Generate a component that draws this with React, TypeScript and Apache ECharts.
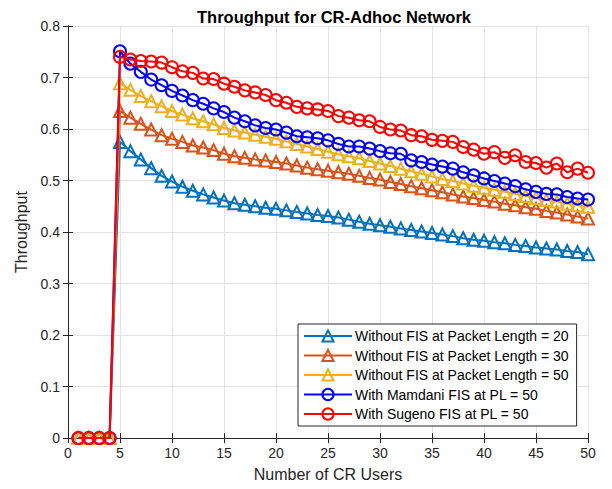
import React, { useEffect, useRef } from "react";
import * as echarts from "echarts";

// Number of CR users on the x axis
const users = [
  1, 2, 3, 4, 5, 6, 7, 8, 9, 10, 11, 12, 13, 14, 15, 16, 17, 18, 19, 20, 21, 22, 23, 24, 25,
  26, 27, 28, 29, 30, 31, 32, 33, 34, 35, 36, 37, 38, 39, 40, 41, 42, 43, 44, 45, 46, 47, 48,
  49, 50,
];

const noFisPL20 = [
  0, 0, 0, 0, 0.575, 0.557, 0.541, 0.524, 0.509, 0.498, 0.488, 0.48, 0.473, 0.467, 0.461,
  0.456, 0.453, 0.45, 0.447, 0.445, 0.442, 0.439, 0.436, 0.433, 0.431, 0.428, 0.424, 0.42,
  0.416, 0.413, 0.41, 0.407, 0.404, 0.401, 0.398, 0.395, 0.392, 0.388, 0.385, 0.383, 0.38,
  0.378, 0.375, 0.373, 0.37, 0.368, 0.366, 0.363, 0.361, 0.357,
];

const noFisPL30 = [
  0, 0, 0, 0, 0.635, 0.622, 0.61, 0.599, 0.588, 0.581, 0.575, 0.568, 0.564, 0.559, 0.552,
  0.547, 0.544, 0.541, 0.539, 0.536, 0.533, 0.529, 0.525, 0.522, 0.519, 0.516, 0.513, 0.509,
  0.505, 0.502, 0.497, 0.493, 0.489, 0.485, 0.481, 0.477, 0.473, 0.469, 0.466, 0.462, 0.459,
  0.455, 0.452, 0.448, 0.445, 0.441, 0.438, 0.434, 0.43, 0.426,
];

const noFisPL50 = [
  0, 0, 0, 0, 0.689, 0.676, 0.664, 0.654, 0.644, 0.635, 0.628, 0.621, 0.615, 0.609, 0.602,
  0.597, 0.593, 0.589, 0.585, 0.581, 0.576, 0.571, 0.566, 0.561, 0.556, 0.551, 0.547, 0.543,
  0.538, 0.533, 0.528, 0.523, 0.518, 0.513, 0.508, 0.503, 0.499, 0.494, 0.49, 0.486, 0.482,
  0.478, 0.474, 0.47, 0.466, 0.462, 0.459, 0.455, 0.452, 0.449,
];

const mamdaniPL50 = [
  0, 0, 0, 0, 0.751, 0.727, 0.711, 0.696, 0.685, 0.674, 0.665, 0.656, 0.649, 0.64, 0.633,
  0.622, 0.615, 0.607, 0.602, 0.599, 0.593, 0.586, 0.584, 0.582, 0.578, 0.571, 0.566, 0.566,
  0.562, 0.557, 0.553, 0.552, 0.539, 0.536, 0.531, 0.527, 0.523, 0.516, 0.51, 0.504, 0.499,
  0.494, 0.489, 0.483, 0.478, 0.474, 0.473, 0.468, 0.465, 0.463,
];

const sugenoPL50 = [
  0, 0, 0, 0, 0.74, 0.735, 0.732, 0.731, 0.729, 0.72, 0.712, 0.709, 0.698, 0.697, 0.688,
  0.682, 0.675, 0.671, 0.666, 0.656, 0.651, 0.643, 0.64, 0.638, 0.635, 0.625, 0.622, 0.617,
  0.615, 0.604, 0.599, 0.597, 0.588, 0.586, 0.579, 0.577, 0.575, 0.565, 0.56, 0.552, 0.555,
  0.544, 0.549, 0.536, 0.534, 0.525, 0.533, 0.516, 0.523, 0.515,
];

const seriesNames = [
  "Without FIS at Packet Length = 20",
  "Without FIS at Packet Length = 30",
  "Without FIS at Packet Length = 50",
  "With Mamdani FIS at PL = 50",
  "With Sugeno FIS at PL = 50",
];

const seriesColors = ["#0072BD", "#D95319", "#EDB120", "#0000FF", "#FF0000"];
const seriesSymbols = ["triangle", "triangle", "triangle", "circle", "circle"];
const seriesValues = [noFisPL20, noFisPL30, noFisPL50, mamdaniPL50, sugenoPL50];

const xTicks = { min: 0, max: 50, interval: 5 };
const yTicks = { min: 0, max: 0.8, interval: 0.1 };

const axisInk = "#262626";
const font = "Liberation Sans, Arial, Helvetica, sans-serif";

export default function App() {
  const ref = useRef<HTMLDivElement>(null);

  useEffect(() => {
    if (!ref.current) return;
    const chart = echarts.init(ref.current, undefined, { renderer: "svg" });

    const axisLine = { show: true, lineStyle: { color: axisInk, width: 1 } };
    const tickIn = { show: true, inside: true, length: 5, lineStyle: { color: axisInk } };

    const series = seriesValues.map((vals, i) => ({
      name: seriesNames[i],
      type: "line",
      data: users.map((u, k) => [u, vals[k]]),
      symbol: seriesSymbols[i],
      symbolSize: 12,
      showAllSymbol: true,
      lineStyle: { color: seriesColors[i], width: 2 },
      itemStyle: { color: "rgba(255,255,255,0)", borderColor: seriesColors[i], borderWidth: 2 },
      emphasis: { disabled: true },
      z: 2 + i,
    }));

    chart.setOption({
      animation: false,
      backgroundColor: "#ffffff",
      title: {
        text: "Throughput for CR-Adhoc Network",
        left: 329,
        top: 3,
        textAlign: "center",
        textStyle: { fontFamily: font, fontSize: 16.5, fontWeight: "bold", color: "#000" },
      },
      grid: { left: 68, top: 26, right: 24, bottom: 51, containLabel: false },
      legend: {
        orient: "vertical",
        left: 298,
        top: 324,
        padding: [5, 8, 5, 5],
        itemGap: 5.5,
        itemWidth: 48,
        itemHeight: 14,
        backgroundColor: "#ffffff",
        borderColor: axisInk,
        borderWidth: 1,
        borderRadius: 0,
        textStyle: { fontFamily: font, fontSize: 14, color: "#000", padding: [0, 0, 0, -2] },
        data: seriesNames,
      },
      xAxis: [
        {
          type: "value",
          ...xTicks,
          position: "bottom",
          name: "Number of CR Users",
          nameLocation: "middle",
          nameGap: 28,
          nameTextStyle: { fontFamily: font, fontSize: 16, color: axisInk },
          axisLine,
          axisTick: tickIn,
          axisLabel: { fontFamily: font, fontSize: 14, color: axisInk, margin: 8 },
          splitLine: { show: true, lineStyle: { color: "#e3e3e3", width: 1 } },
        },
        {
          type: "value",
          ...xTicks,
          position: "top",
          axisLine,
          axisTick: tickIn,
          axisLabel: { show: false },
          splitLine: { show: false },
        },
      ],
      yAxis: [
        {
          type: "value",
          ...yTicks,
          position: "left",
          name: "Throughput",
          nameLocation: "middle",
          nameGap: 36,
          nameTextStyle: { fontFamily: font, fontSize: 16, color: axisInk },
          axisLine,
          axisTick: tickIn,
          axisLabel: { fontFamily: font, fontSize: 14, color: axisInk, margin: 8 },
          splitLine: { show: true, lineStyle: { color: "#e3e3e3", width: 1 } },
        },
        {
          type: "value",
          ...yTicks,
          position: "right",
          axisLine,
          axisTick: tickIn,
          axisLabel: { show: false },
          splitLine: { show: false },
        },
      ],
      series,
    });

    return () => chart.dispose();
  }, []);

  return (
    <div
      ref={ref}
      style={{ position: "absolute", left: 0, top: 0, width: 612, height: 489 }}
    />
  );
}
